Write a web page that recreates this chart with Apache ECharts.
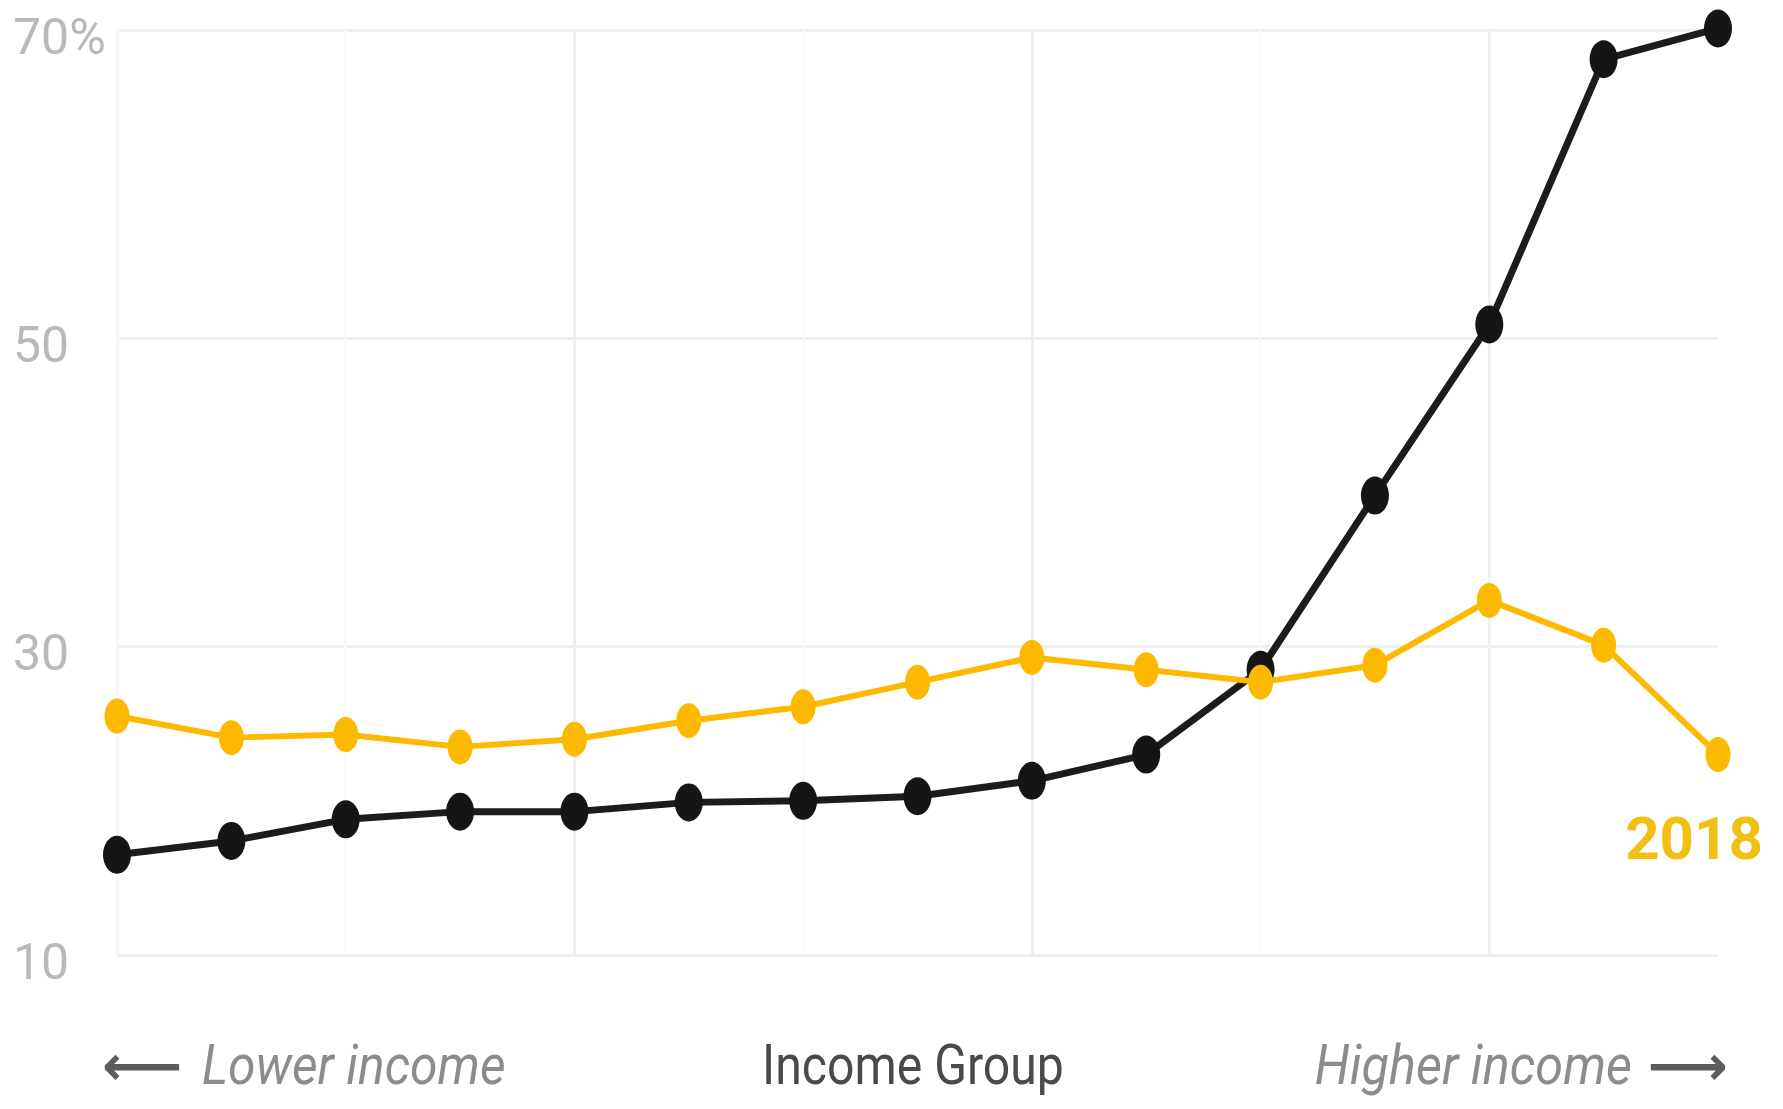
<!DOCTYPE html>
<html>
<head>
<meta charset="utf-8">
<style>
html,body{margin:0;padding:0;background:#fff;}
#chart{width:1783px;height:1109px;}
</style>
<script src="https://cdn.jsdelivr.net/npm/echarts@6/dist/echarts.min.js"></script>
</head>
<body>
<div id="chart"></div>
<script>
// Income groups (lower -> higher), 15 groups
const categories = ['1','2','3','4','5','6','7','8','9','10','11','12','13','14','15'];
// Earlier year (black)
const blackValues = [16.5, 17.4, 18.8, 19.3, 19.3, 19.9, 20.0, 20.3, 21.3, 23.0, 28.5, 39.8, 50.9, 68.1, 70.1];
// 2018 (yellow)
const yellowValues = [25.5, 24.1, 24.3, 23.5, 24.0, 25.2, 26.1, 27.7, 29.3, 28.5, 27.7, 28.8, 33.0, 30.1, 23.0];
const yTicks = [10, 30, 50, 70];
const seriesNames = ['Earlier', '2018'];
const xAxisTitle = 'Income Group';
const lowerText = 'Lower income';
const higherText = 'Higher income';

const FONT = "'Roboto', 'Liberation Sans', sans-serif";
const YELLOW = '#fdb900';
const YELLOW_TEXT = '#f2c012';

const chart = echarts.init(document.getElementById('chart'), null, {renderer: 'canvas'});

const yellowData = yellowValues.map((v, i) => {
  if (i === yellowValues.length - 1) {
    return {
      value: v,
      label: {
        show: true,
        position: 'bottom',
        distance: 42,
        offset: [-24, 0],
        formatter: seriesNames[1],
        color: YELLOW_TEXT,
        fontFamily: FONT,
        fontWeight: 'bold',
        fontSize: 60
      }
    };
  }
  return v;
});

chart.setOption({
  backgroundColor: '#ffffff',
  animation: false,
  grid: {left: 117, right: 65, top: 30, bottom: 154, containLabel: false},
  xAxis: {
    type: 'category',
    data: categories,
    boundaryGap: false,
    axisLine: {show: false},
    axisTick: {show: false},
    axisLabel: {show: false},
    splitLine: {
      show: true,
      interval: function (index) { return index % 2 === 0 && index < 14; },
      lineStyle: {color: ['#f6f6f6', '#fafafa', '#eeeeee', '#fafafa', '#eeeeee', '#fafafa', '#f2f2f2'], width: 3}
    }
  },
  yAxis: {
    type: 'value',
    min: yTicks[0],
    max: yTicks[yTicks.length - 1],
    interval: 20,
    axisLine: {show: false},
    axisTick: {show: false},
    axisLabel: {
      margin: 104,
      align: 'left',
      verticalAlign: 'middle',
      color: '#b9b9b9',
      fontFamily: FONT,
      fontSize: 50,
      formatter: function (v) { return '{v|' + (v === yTicks[yTicks.length - 1] ? v + '%' : String(v)) + '}'; },
      rich: {
        v: {padding: [22, 0, 0, 0], color: '#b9b9b9', fontFamily: FONT, fontSize: 50}
      }
    },
    splitLine: {show: true, lineStyle: {color: '#efefef', width: 3}}
  },
  series: [
    {
      name: seriesNames[0],
      type: 'line',
      data: blackValues,
      clip: false,
      z: 3,
      symbol: 'circle',
      symbolSize: [28, 38],
      itemStyle: {color: '#151515'},
      lineStyle: {color: '#1c1c1c', width: 7}
    },
    {
      name: seriesNames[1],
      type: 'line',
      data: yellowData,
      clip: false,
      z: 4,
      symbol: 'circle',
      symbolSize: [25, 35],
      itemStyle: {color: YELLOW},
      lineStyle: {color: YELLOW, width: 6}
    }
  ],
  graphic: [
    {
      type: 'text',
      x: 102, y: 1070,
      style: {text: '⟵', font: 'bold 56px "DejaVu Sans"', fill: '#5c5c5c', align: 'left', verticalAlign: 'middle'}
    },
    {
      type: 'text',
      x: 202, y: 1070, scaleX: 0.89,
      style: {text: lowerText, font: 'italic 56px ' + FONT, fill: '#8c8c8c', align: 'left', verticalAlign: 'middle'}
    },
    {
      type: 'text',
      x: 913, y: 1070, scaleX: 0.86,
      style: {text: xAxisTitle, font: '56px ' + FONT, fill: '#4a4a4a', align: 'center', verticalAlign: 'middle'}
    },
    {
      type: 'text',
      x: 1632, y: 1070, scaleX: 0.9,
      style: {text: higherText, font: 'italic 56px ' + FONT, fill: '#8c8c8c', align: 'right', verticalAlign: 'middle'}
    },
    {
      type: 'text',
      x: 1728, y: 1070,
      style: {text: '⟶', font: 'bold 56px "DejaVu Sans"', fill: '#5c5c5c', align: 'right', verticalAlign: 'middle'}
    }
  ]
});
</script>
</body>
</html>
